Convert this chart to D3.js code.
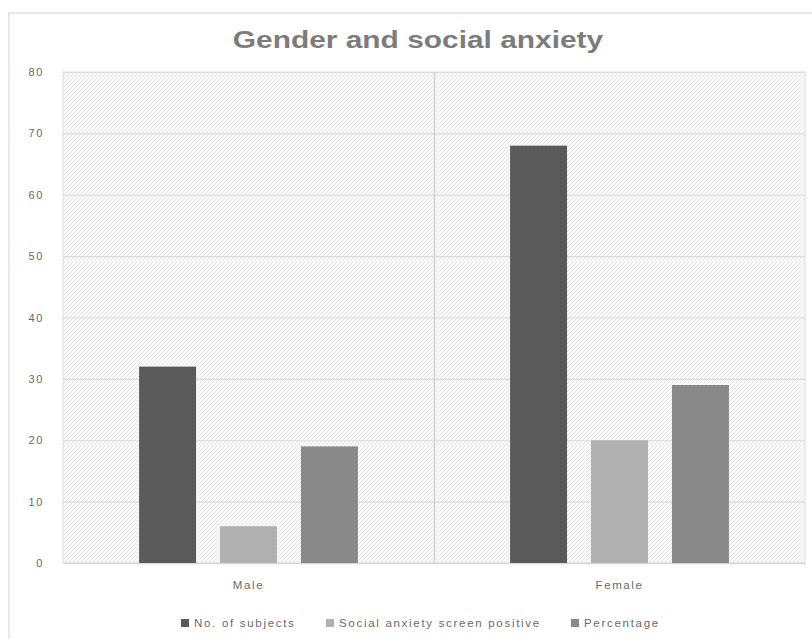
<!DOCTYPE html>
<html>
<head>
<meta charset="utf-8">
<script src="https://cdn.jsdelivr.net/npm/d3@7"></script>
<style>
  html, body { margin: 0; padding: 0; background: #fff; }
  svg { display: block; }
  text { font-family: "Liberation Sans", Arial, sans-serif; }
</style>
</head>
<body>
<svg id="chart" width="812" height="639"></svg>
<script>
// Chart data
const title = "Gender and social anxiety";
const categories = ["Male", "Female"];
const seriesNames = ["No. of subjects", "Social anxiety screen positive", "Percentage"];
const noOfSubjects = [32, 68];
const screenPositive = [6, 20];
const percentage = [19, 29];
const yTicks = [0, 10, 20, 30, 40, 50, 60, 70, 80];
const seriesColors = ["#5a5a5a", "#b1b1b1", "#898989"];

const seriesValues = [noOfSubjects, screenPositive, percentage];

const W = 812, H = 639;
const margin = { top: 72, right: 7, bottom: 76, left: 63 };
const innerW = W - margin.left - margin.right;
const innerH = H - margin.top - margin.bottom;

const svg = d3.select("#chart");

// Hatched fill for the plot area
const defs = svg.append("defs");
const pat = defs.append("pattern")
  .attr("id", "hatch")
  .attr("patternUnits", "userSpaceOnUse")
  .attr("width", 4).attr("height", 4);
pat.append("rect").attr("width", 4).attr("height", 4).attr("fill", "#fbfbfb");
pat.append("path")
  .attr("d", "M-1,1 l2,-2 M0,4 l4,-4 M3,5 l2,-2")
  .attr("stroke", "#e3e3e3").attr("stroke-width", 1);

// Outer chart frame
svg.append("path")
  .attr("d", `M9,${H} L9,13 L${W},13`)
  .attr("fill", "none").attr("stroke", "#e2e2e2").attr("stroke-width", 1.5);

// Title (wide lettering)
svg.append("text")
  .attr("transform", "translate(418,48) scale(1.3,1)")
  .attr("text-anchor", "middle")
  .attr("font-size", 23).attr("font-weight", "bold")
  .attr("fill", "#7c7c7c")
  .text(title);

const g = svg.append("g").attr("transform", `translate(${margin.left},${margin.top})`);

const y = d3.scaleLinear().domain([0, 80]).range([innerH, 0]);
const x0 = d3.scaleBand().domain(categories).range([0, innerW]).padding(0);
const x1 = d3.scaleBand().domain(seriesNames).range([0, x0.bandwidth()])
  .paddingInner(0.296).paddingOuter(0.94);

// Plot background
g.append("rect")
  .attr("width", innerW).attr("height", innerH)
  .attr("fill", "url(#hatch)")
  .attr("stroke", "#dedede").attr("stroke-width", 1);

// Horizontal gridlines
g.append("g").selectAll("line")
  .data(yTicks.filter(t => t > 0))
  .join("line")
  .attr("x1", 0).attr("x2", innerW)
  .attr("y1", d => y(d) + 0.5).attr("y2", d => y(d) + 0.5)
  .attr("stroke", "#dcdcdc").attr("stroke-width", 1.2);

// Category separator
g.append("line")
  .attr("x1", x0("Female") + 0.5).attr("x2", x0("Female") + 0.5)
  .attr("y1", 0).attr("y2", innerH)
  .attr("stroke", "#cfcfcf").attr("stroke-width", 1.2);

// Y axis labels
const yAxis = d3.axisLeft(y).tickValues(yTicks).tickSize(0).tickPadding(19);
const ya = g.append("g").call(yAxis);
ya.select(".domain").remove();
ya.selectAll("text")
  .attr("font-size", 11).attr("letter-spacing", 1.6)
  .attr("fill", "#6a6a6a").attr("font-family", "Liberation Sans, Arial, sans-serif");

// X axis labels
const xAxis = d3.axisBottom(x0).tickSize(0).tickPadding(18);
const xa = g.append("g").attr("transform", `translate(0,${innerH})`).call(xAxis);
xa.select(".domain").attr("stroke", "#d6d6d6").attr("stroke-width", 1.5);
xa.selectAll("text")
  .attr("font-size", 11.5).attr("letter-spacing", 1.6)
  .attr("fill", "#6a6a6a").attr("font-family", "Liberation Sans, Arial, sans-serif");

// Bars
const groups = g.append("g").selectAll("g")
  .data(categories)
  .join("g")
  .attr("transform", d => `translate(${x0(d)},0)`);

groups.selectAll("rect")
  .data((c, ci) => seriesNames.map((s, si) => ({ s, si, v: seriesValues[si][ci] })))
  .join("rect")
  .attr("x", d => x1(d.s))
  .attr("width", x1.bandwidth())
  .attr("y", d => y(d.v))
  .attr("height", d => innerH - y(d.v))
  .attr("fill", d => seriesColors[d.si]);

// Legend
const legendX = [181, 326, 571];
const legend = svg.append("g").attr("transform", "translate(0,623)");
seriesNames.forEach((name, i) => {
  legend.append("rect")
    .attr("x", legendX[i]).attr("y", -4)
    .attr("width", 8).attr("height", 8)
    .attr("fill", seriesColors[i]);
  legend.append("text")
    .attr("x", legendX[i] + 13).attr("y", 4)
    .attr("font-size", 11.5).attr("letter-spacing", 1.7)
    .attr("fill", "#6a6a6a")
    .text(name);
});
</script>
</body>
</html>
